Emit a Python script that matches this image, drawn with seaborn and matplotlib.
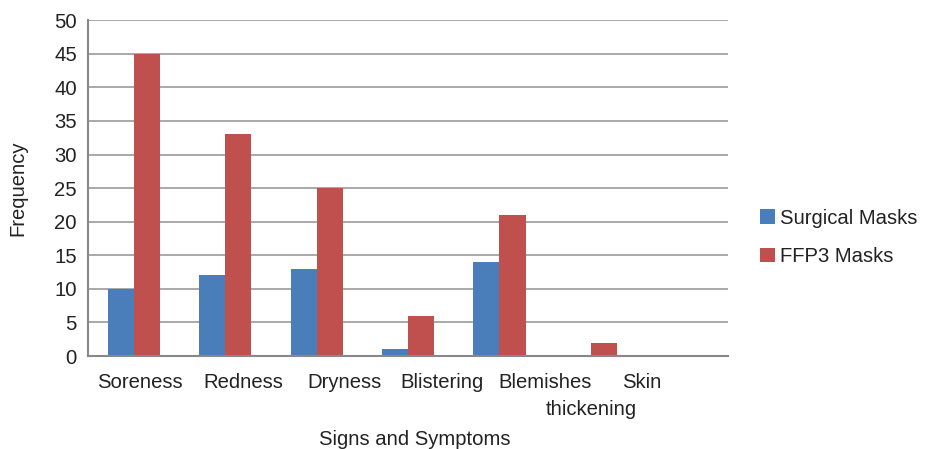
import pandas as pd
import numpy as np
import matplotlib
matplotlib.use("Agg")
import matplotlib.pyplot as plt
import seaborn as sns

# values
symptoms = ['Soreness', 'Redness', 'Dryness', 'Blistering', 'Blemishes', 'Skin thickening']
surgical = [10, 12, 13, 1, 14, 0]
ffp3 = [45, 33, 25, 6, 21, 2]
series = ['Surgical Masks', 'FFP3 Masks']
colors = ['#4A7EBB', '#C0504D']

df = pd.DataFrame({
    'symptom': symptoms * 2,
    'mask': [series[0]] * len(symptoms) + [series[1]] * len(symptoms),
    'freq': surgical + ffp3,
})

sns.set_style("white")
plt.rcParams['font.family'] = ['Liberation Sans', 'DejaVu Sans']
FS = 14.6
TXT = '#222222'

fig = plt.figure(figsize=(9.31, 4.49), dpi=100)
ax = fig.add_axes([0.0945, 0.207, 0.6875, 0.748])

# the original chart reserves one extra empty category slot at the end
order = symptoms + ['']
sns.barplot(data=df, x='symptom', y='freq', hue='mask', order=order,
            hue_order=series, palette=colors, width=0.57, gap=0,
            saturation=1, edgecolor='none', ax=ax)

ax.set_ylim(0, 50)
ax.set_yticks(range(0, 51, 5))
ax.yaxis.grid(True, color='#999999', linewidth=1.2)
ax.set_axisbelow(True)
for s in ['top', 'right']:
    ax.spines[s].set_visible(False)
for s in ['left', 'bottom']:
    ax.spines[s].set_color('#888888')
    ax.spines[s].set_linewidth(1.5)
ax.tick_params(axis='y', length=4, color='#888888', width=1.2, labelsize=FS, colors=TXT, pad=4)
ax.tick_params(axis='x', length=0)
ax.set_xticks([])
ax.set_xlabel('')
ax.set_ylabel('Frequency', fontsize=FS, color=TXT, labelpad=19)

# category labels sit a little off the bar groups, as in the original
label_pos = [0.07, 1.195, 2.31, 3.37, 4.5]
for name, xp in zip(symptoms[:5], label_pos):
    ax.text(xp, -3.9, name, ha='center', va='center', fontsize=FS, color=TXT)
ax.text(5.56, -3.9, 'Skin', ha='center', va='center', fontsize=FS, color=TXT)
ax.text(5.01, -7.9, 'thickening', ha='center', va='center', fontsize=FS, color=TXT)
ax.text(3.07, -12.4, 'Signs and Symptoms', ha='center', va='center', fontsize=FS, color=TXT)

leg = ax.legend(loc='center left', bbox_to_anchor=(1.022, 0.354), frameon=False,
                fontsize=FS, handlelength=0.7, handleheight=0.7,
                handletextpad=0.25, labelspacing=0.95)
for t in leg.get_texts():
    t.set_color(TXT)

fig.savefig('out.png', dpi=100)
